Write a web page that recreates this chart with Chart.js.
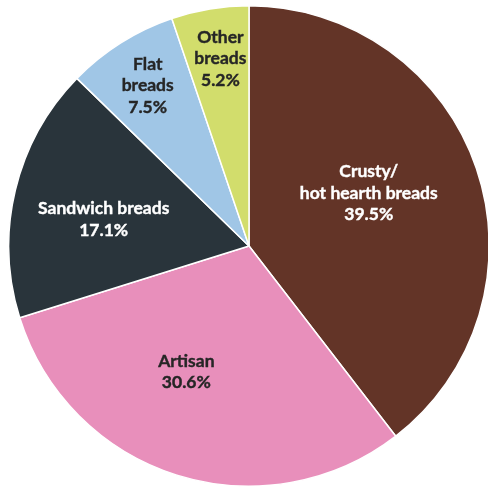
<!DOCTYPE html>
<html>
<head>
<meta charset="utf-8">
<script src="https://cdn.jsdelivr.net/npm/chart.js@4"></script>
<style>
html,body{margin:0;padding:0;background:#fff;overflow:hidden;}
#wrap{position:absolute;left:0;top:0;width:492px;height:487px;}
</style>
</head>
<body>
<div id="wrap"><canvas id="c"></canvas></div>
<script>
const categories = ["Crusty/\nhot hearth breads", "Artisan", "Sandwich breads", "Flat\nbreads", "Other\nbreads"];
const shares = [39.5, 30.6, 17.1, 7.5, 5.2];
const sliceColors = ["#633427", "#E88FBB", "#29343B", "#A0C6E6", "#D2DD6C"];
const labelColors = ["#ffffff", "#262626", "#ffffff", "#262626", "#262626"];
// label placement: radial fraction and angular shift (degrees)
const labelRadius = [0.545, 0.585, 0.615, 0.79, 0.79];
const labelShift = [-5, 9, -3, 0, 0.7];

const labelPlugin = {
  id: 'sliceLabels',
  afterDatasetsDraw(chart) {
    const ctx = chart.ctx;
    const meta = chart.getDatasetMeta(0);
    ctx.save();
    ctx.font = 'bold 17.5px Lato';
    ctx.textAlign = 'center';
    ctx.textBaseline = 'middle';
    meta.data.forEach((arc, i) => {
      const p = arc.getProps(['x','y','startAngle','endAngle','outerRadius'], true);
      const mid = (p.startAngle + p.endAngle) / 2 + labelShift[i] * Math.PI / 180;
      const r = p.outerRadius * labelRadius[i];
      const cx = p.x + r * Math.cos(mid);
      const cy = p.y + r * Math.sin(mid);
      const lines = categories[i].split('\n').concat([shares[i].toFixed(1) + '%']);
      const lh = 21.5;
      ctx.fillStyle = labelColors[i];
      ctx.strokeStyle = labelColors[i];
      ctx.lineWidth = 0.4;
      lines.forEach((t, k) => {
        const y = cy + (k - (lines.length - 1) / 2) * lh;
        ctx.fillText(t, cx, y);
        ctx.strokeText(t, cx, y);
      });
    });
    ctx.restore();
  }
};

new Chart(document.getElementById('c'), {
  type: 'pie',
  data: {
    labels: categories,
    datasets: [{
      data: shares,
      backgroundColor: sliceColors,
      borderColor: '#ffffff',
      borderWidth: 1.5
    }]
  },
  options: {
    responsive: true,
    maintainAspectRatio: false,
    animation: false,
    layout: { padding: { left: 8, top: 5, right: 2, bottom: 0 } },
    plugins: { legend: { display: false }, tooltip: { enabled: false } }
  },
  plugins: [labelPlugin]
});
</script>
</body>
</html>
